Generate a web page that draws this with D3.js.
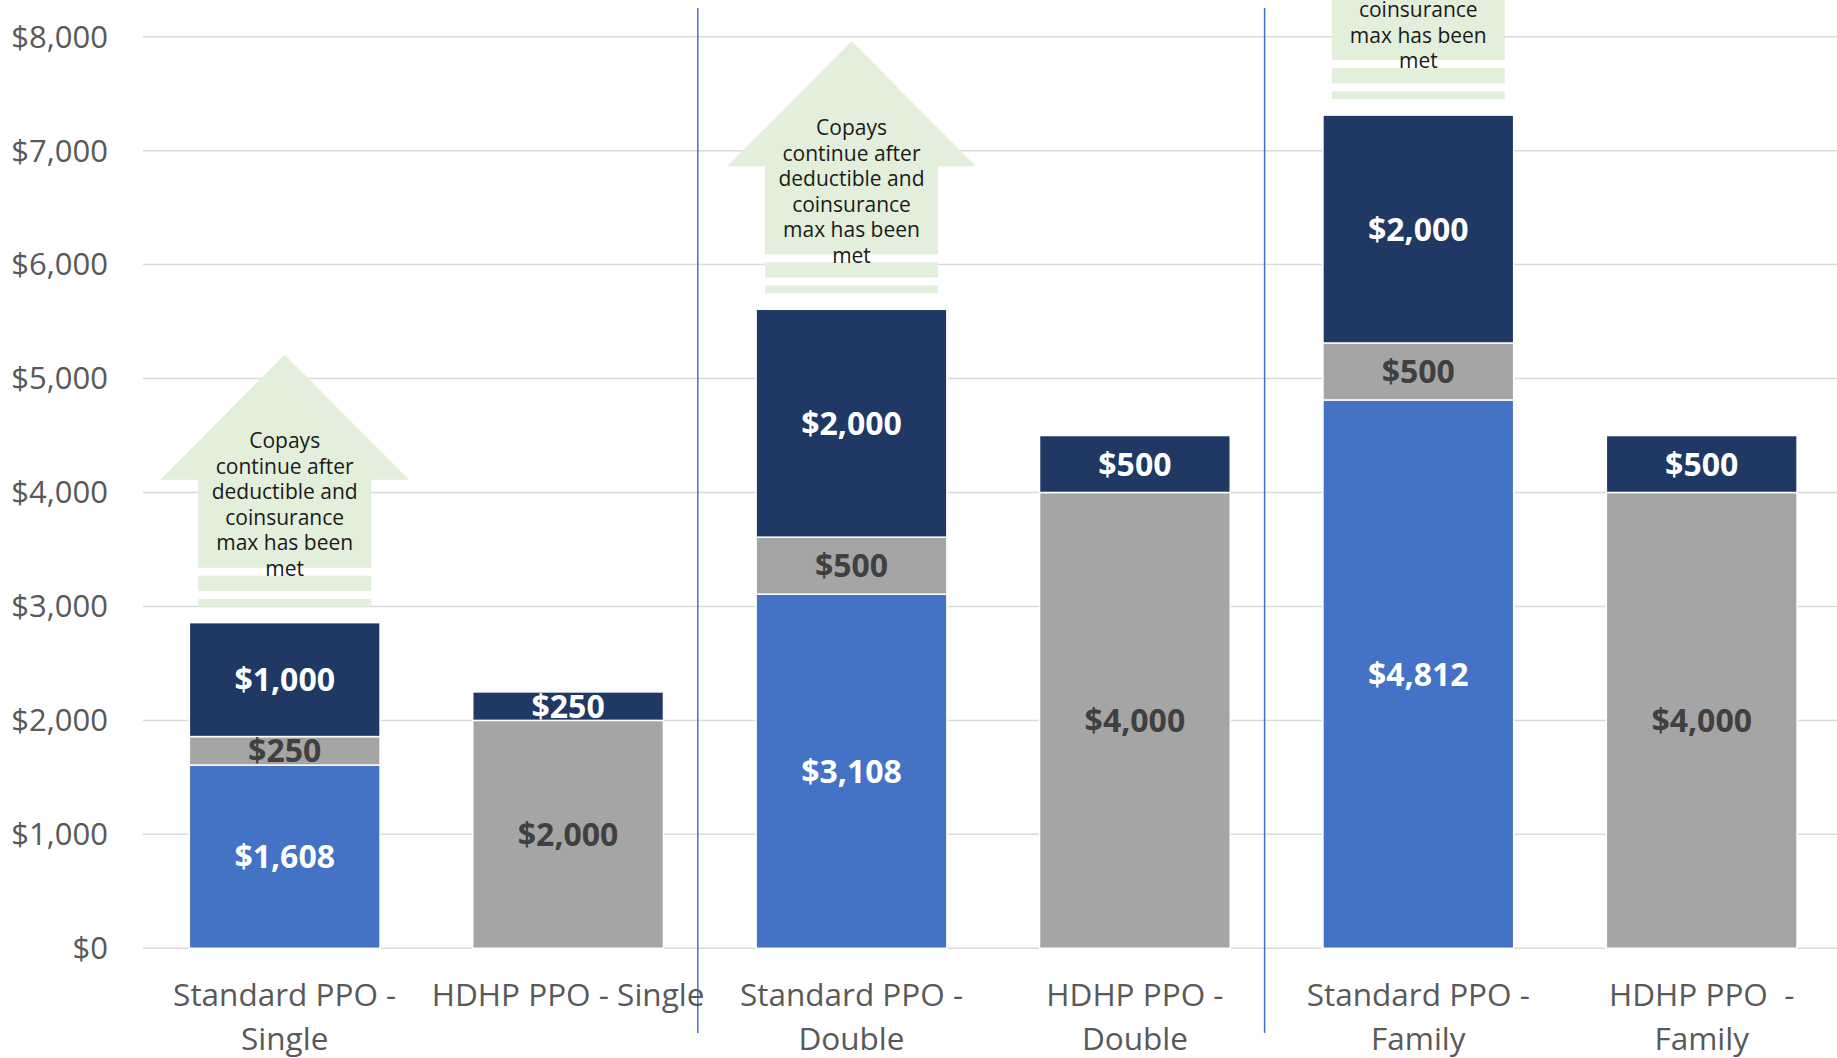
<!DOCTYPE html>
<html>
<head>
<meta charset="utf-8">
<script src="https://cdn.jsdelivr.net/npm/d3@7"></script>
<style>
  html, body { margin: 0; padding: 0; background: #fff; }
  svg { display: block; font-family: "Open Sans", sans-serif; }
</style>
</head>
<body>
<svg id="chart" width="1837" height="1058"></svg>
<script>
// --- Data ---
const categories = ['Standard PPO - Single', 'HDHP PPO - Single', 'Standard PPO - Double',
                    'HDHP PPO - Double', 'Standard PPO - Family', 'HDHP PPO  - Family'];
const categoryLines = [['Standard PPO -', 'Single'], ['HDHP PPO - Single'], ['Standard PPO -', 'Double'],
                       ['HDHP PPO -', 'Double'], ['Standard PPO -', 'Family'], ['HDHP PPO  -', 'Family']];
const copays = [1608, 0, 3108, 0, 4812, 0];
const deductible = [250, 2000, 500, 4000, 500, 4000];
const coinsurance = [1000, 250, 2000, 500, 2000, 500];
const yTicks = [0, 1000, 2000, 3000, 4000, 5000, 6000, 7000, 8000];
const arrowBars = [0, 2, 4];
const arrowText = ['Copays', 'continue after', 'deductible and', 'coinsurance', 'max has been', 'met'];
const separatorsAfter = [1, 3];

const seriesKeys = ['copays', 'deductible', 'coinsurance'];
const seriesColor = { copays: '#4472C4', deductible: '#A5A5A5', coinsurance: '#203864' };
const labelColor = { copays: '#FFFFFF', deductible: '#404040', coinsurance: '#FFFFFF' };

const rows = categories.map((c, i) => ({
    category: c,
    copays: copays[i],
    deductible: deductible[i],
    coinsurance: coinsurance[i]
}));

// --- Scales ---
const svg = d3.select('#chart');
const plotLeft = 143, plotRight = 1843.4;

const x = d3.scaleBand()
    .domain(categories)
    .range([plotLeft, plotRight])
    .paddingInner(0.327)
    .paddingOuter(0.1635);

const y = d3.scaleLinear().domain([0, 8000]).range([948.3, 36.7]);
const fmt = v => '$' + d3.format(',')(v);

// --- Gridlines + y labels ---
svg.append('g').selectAll('line')
    .data(yTicks)
    .enter().append('line')
    .attr('x1', plotLeft).attr('x2', 1837)
    .attr('y1', d => y(d)).attr('y2', d => y(d))
    .attr('stroke', '#D9D9D9').attr('stroke-width', 1.5);

svg.append('g').selectAll('text')
    .data(yTicks)
    .enter().append('text')
    .attr('x', 108).attr('y', d => y(d))
    .attr('dy', '0.35em')
    .attr('text-anchor', 'end')
    .attr('font-size', 31)
    .attr('fill', '#595959')
    .text(fmt);

// --- Stacked bars ---
const stacked = d3.stack().keys(seriesKeys)(rows);

const layers = svg.append('g').selectAll('g')
    .data(stacked)
    .enter().append('g')
    .attr('fill', d => seriesColor[d.key]);

layers.selectAll('rect')
    .data(d => d.filter(s => s[1] > s[0]))
    .enter().append('rect')
    .attr('x', d => x(d.data.category))
    .attr('width', x.bandwidth())
    .attr('y', d => y(d[1]))
    .attr('height', d => y(d[0]) - y(d[1]))
    .attr('stroke', '#FFFFFF')
    .attr('stroke-width', 1.5);

// segment value labels
stacked.forEach(layer => {
    svg.append('g').selectAll('text')
        .data(layer.filter(s => s[1] > s[0]))
        .enter().append('text')
        .attr('x', d => x(d.data.category) + x.bandwidth() / 2)
        .attr('y', d => (y(d[0]) + y(d[1])) / 2)
        .attr('dy', '0.36em')
        .attr('text-anchor', 'middle')
        .attr('font-size', 32)
        .attr('font-weight', 700)
        .attr('fill', labelColor[layer.key])
        .text(d => fmt(d[1] - d[0]));
});

// --- Up arrows above standard PPO bars ---
const arrows = svg.append('g');
arrowBars.forEach(i => {
    const cx = x(categories[i]) + x.bandwidth() / 2;
    const total = copays[i] + deductible[i] + coinsurance[i];
    const b = y(total) - 16;          // arrow bottom
    const shaft = 86.5, head = 124.5;
    const g = arrows.append('g').attr('fill', '#E2EFDA');

    g.append('path').attr('d', [
        ['M', cx - shaft, b - 39],
        ['L', cx - shaft, b - 127],
        ['L', cx - head, b - 127],
        ['L', cx, b - 252],
        ['L', cx + head, b - 127],
        ['L', cx + shaft, b - 127],
        ['L', cx + shaft, b - 39]
    ].map(p => p[0] + p[1] + ',' + p[2]).join(' ') + 'Z');

    g.append('rect').attr('x', cx - shaft).attr('width', shaft * 2)
        .attr('y', b - 31).attr('height', 15.3);
    g.append('rect').attr('x', cx - shaft).attr('width', shaft * 2)
        .attr('y', b - 7.7).attr('height', 7.7);

    arrows.append('g').selectAll('text')
        .data(arrowText)
        .enter().append('text')
        .attr('x', cx)
        .attr('y', (d, k) => b - 38 - (arrowText.length - 1 - k) * 25.5)
        .attr('dy', '0.35em')
        .attr('text-anchor', 'middle')
        .attr('font-size', 21)
        .attr('fill', '#1A1A1A')
        .text(d => d);
});

// --- Vertical group separators ---
svg.append('g').selectAll('line')
    .data(separatorsAfter)
    .enter().append('line')
    .attr('x1', i => x(categories[i + 1]) - x.step() * x.paddingInner() / 2 - 12)
    .attr('x2', i => x(categories[i + 1]) - x.step() * x.paddingInner() / 2 - 12)
    .attr('y1', 8).attr('y2', 1033)
    .attr('stroke', '#4472C4').attr('stroke-width', 1.5);

// --- Category labels ---
const catLabels = svg.append('g').selectAll('text')
    .data(categories)
    .enter().append('text')
    .attr('text-anchor', 'middle')
    .attr('font-size', 31.5)
    .attr('fill', '#595959');

catLabels.selectAll('tspan')
    .data((d, i) => categoryLines[i].map(t => ({ t, c: d })))
    .enter().append('tspan')
    .attr('x', d => x(d.c) + x.bandwidth() / 2)
    .attr('y', (d, k) => y(0) + 58 + k * 43.5)
    .attr('xml:space', 'preserve')
    .style('white-space', 'pre')
    .text(d => d.t);
</script>
</body>
</html>
